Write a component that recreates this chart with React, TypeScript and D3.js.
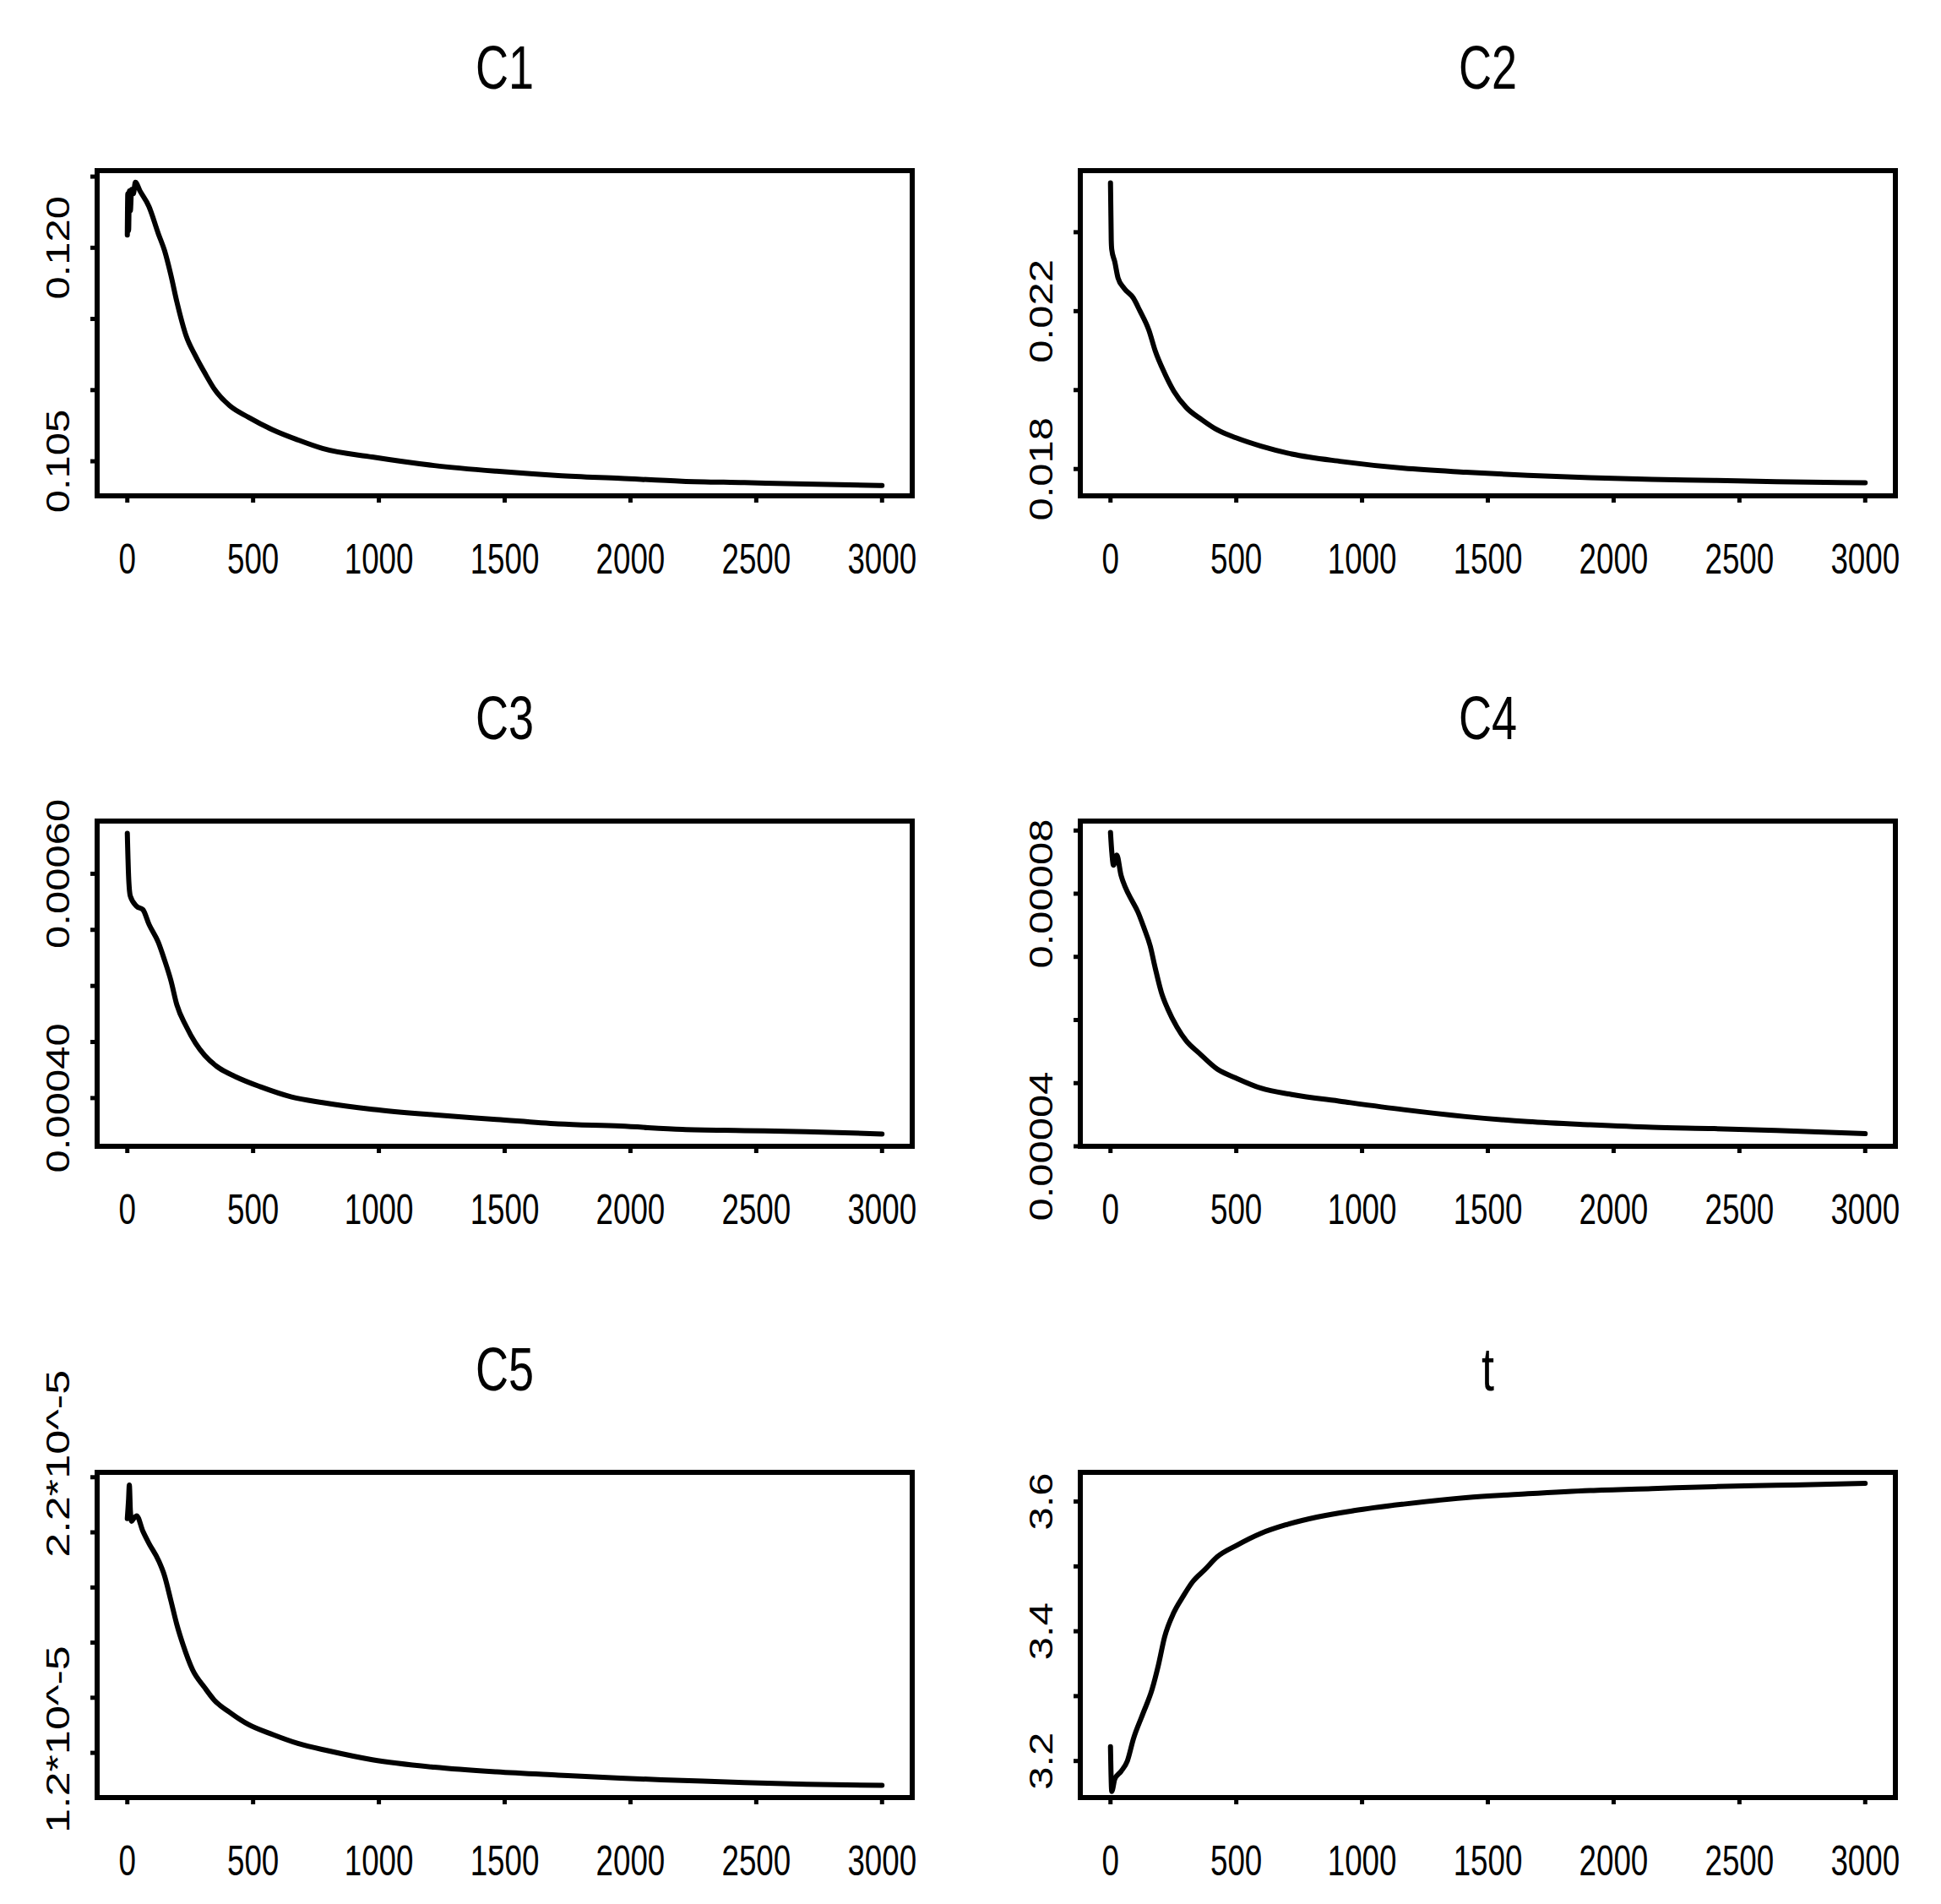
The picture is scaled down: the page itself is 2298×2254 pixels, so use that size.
import React from "react";
import * as d3 from "d3";

// ---------- data ----------
const xTicks = [0, 500, 1000, 1500, 2000, 2500, 3000];
const xDomain = [-120, 3120];

const c1X = [0, 2, 5, 8, 12, 17, 24, 32, 50, 86, 123, 148, 173, 197, 234, 271, 308, 345, 407, 481, 579, 678, 776, 974, 1220, 1467, 1713, 1960, 2206, 2453, 2699, 3000];
const c1Y = [0.1209, 0.1238, 0.1212, 0.124, 0.1226, 0.1241, 0.1238, 0.1246, 0.124, 0.1229, 0.121, 0.1198, 0.1181, 0.1162, 0.1138, 0.1124, 0.1112, 0.1101, 0.1089, 0.1081, 0.1072, 0.1065, 0.1059, 0.1053, 0.1047, 0.1043, 0.104, 0.1038, 0.1036, 0.1035, 0.1034, 0.1033];
const c1Domain = [0.10257, 0.12542];
const c1Ticks = [0.105, 0.11, 0.115, 0.12, 0.125];
const c1Labels = [[0.105, "0.105"], [0.12, "0.120"]];

const c2X = [0, 3, 5, 17, 30, 54, 91, 116, 153, 178, 215, 252, 301, 363, 425, 499, 598, 721, 919, 1165, 1412, 1659, 1906, 2153, 2400, 2647, 3000];
const c2Y = [0.02525, 0.0238, 0.02356, 0.02325, 0.02284, 0.02258, 0.02233, 0.02202, 0.02151, 0.02099, 0.02043, 0.01997, 0.01956, 0.01925, 0.01899, 0.01879, 0.01858, 0.01838, 0.01819, 0.01802, 0.01792, 0.01784, 0.01778, 0.01774, 0.01771, 0.01768, 0.01765];
const c2Domain = [0.01732, 0.02556];
const c2Ticks = [0.018, 0.02, 0.022, 0.024];
const c2Labels = [[0.018, "0.018"], [0.022, "0.022"]];

const c3X = [0, 5, 12, 37, 62, 86, 123, 148, 173, 197, 234, 271, 308, 357, 431, 530, 653, 776, 974, 1220, 1467, 1713, 1960, 2206, 2453, 2699, 3000];
const c3Y = [0.000636, 0.000598, 0.00058, 0.000571, 0.000568, 0.000555, 0.000539, 0.000523, 0.000505, 0.000483, 0.000464, 0.000449, 0.000438, 0.000428, 0.000419, 0.00041, 0.000401, 0.000396, 0.00039, 0.000385, 0.000381, 0.000377, 0.000375, 0.000372, 0.000371, 0.00037, 0.000368];
const c3Domain = [0.000357, 0.000647];
const c3Ticks = [0.0004, 0.00045, 0.0005, 0.00055, 0.0006];
const c3Labels = [[0.0004, "0.00040"], [0.0006, "0.00060"]];

const c4X = [0, 5, 12, 25, 42, 59, 84, 109, 133, 158, 178, 202, 227, 264, 301, 351, 425, 499, 598, 721, 919, 1165, 1412, 1659, 1906, 2153, 2400, 2647, 3000];
const c4Y = [8.97e-5, 8.67e-5, 8.45e-5, 8.61e-5, 8.29e-5, 8.1e-5, 7.9e-5, 7.71e-5, 7.46e-5, 7.17e-5, 6.82e-5, 6.44e-5, 6.18e-5, 5.89e-5, 5.67e-5, 5.48e-5, 5.22e-5, 5.08e-5, 4.92e-5, 4.82e-5, 4.71e-5, 4.58e-5, 4.47e-5, 4.39e-5, 4.34e-5, 4.3e-5, 4.28e-5, 4.25e-5, 4.2e-5];
const c4Domain = [4.0e-5, 9.15e-5];
const c4Ticks = [4e-5, 5e-5, 6e-5, 7e-5, 8e-5, 9e-5];
const c4Labels = [[4e-5, "0.00004"], [8e-5, "0.00008"]];

const c5X = [0, 5, 8, 12, 17, 25, 37, 62, 86, 123, 148, 173, 197, 222, 259, 308, 345, 407, 481, 579, 678, 801, 974, 1220, 1467, 1713, 1960, 2206, 2453, 2699, 3000];
const c5Y = [2.05e-5, 2.12e-5, 2.172e-5, 2.08e-5, 2.04e-5, 2.05e-5, 2.06e-5, 2.004e-5, 1.96e-5, 1.9e-5, 1.842e-5, 1.753e-5, 1.665e-5, 1.591e-5, 1.502e-5, 1.436e-5, 1.392e-5, 1.347e-5, 1.303e-5, 1.266e-5, 1.234e-5, 1.207e-5, 1.175e-5, 1.148e-5, 1.131e-5, 1.119e-5, 1.108e-5, 1.1e-5, 1.092e-5, 1.086e-5, 1.082e-5];
const c5Domain = [1.0378e-5, 2.2177e-5];
const c5Ticks = [1.2e-5, 1.4e-5, 1.6e-5, 1.8e-5, 2.0e-5, 2.2e-5];
const c5Labels = [[1.2e-5, "1.2*10^-5"], [2.2e-5, "2.2*10^-5"]];

const tX = [0, 5, 17, 42, 67, 91, 128, 165, 190, 215, 252, 289, 326, 375, 425, 499, 598, 696, 820, 968, 1165, 1412, 1659, 1906, 2153, 2400, 2647, 3000];
const tY = [3.222, 3.153, 3.172, 3.184, 3.2, 3.234, 3.272, 3.31, 3.347, 3.391, 3.429, 3.454, 3.476, 3.495, 3.515, 3.532, 3.551, 3.564, 3.576, 3.586, 3.596, 3.606, 3.612, 3.617, 3.62, 3.623, 3.625, 3.628];
const tDomain = [3.1436, 3.645];
const tTicks = [3.2, 3.3, 3.4, 3.5, 3.6];
const tLabels = [[3.2, "3.2"], [3.4, "3.4"], [3.6, "3.6"]];

const titles = ["C1", "C2", "C3", "C4", "C5", "t"];

// ---------- layout ----------
const W = 2298;
const H = 2254;
const colLeft = [115, 1279];
const boxW = 965;
const rowTop = [202, 972, 1743];
const boxH = 385;
const FONT = "'Liberation Sans', Arial, Helvetica, sans-serif";
const SX = 0.75;

const panels = [
  { title: titles[0], xs: c1X, ys: c1Y, dom: c1Domain, ticks: c1Ticks, labels: c1Labels, longLab: false },
  { title: titles[1], xs: c2X, ys: c2Y, dom: c2Domain, ticks: c2Ticks, labels: c2Labels, longLab: false },
  { title: titles[2], xs: c3X, ys: c3Y, dom: c3Domain, ticks: c3Ticks, labels: c3Labels, longLab: false },
  { title: titles[3], xs: c4X, ys: c4Y, dom: c4Domain, ticks: c4Ticks, labels: c4Labels, longLab: false },
  { title: titles[4], xs: c5X, ys: c5Y, dom: c5Domain, ticks: c5Ticks, labels: c5Labels, longLab: true },
  { title: titles[5], xs: tX, ys: tY, dom: tDomain, ticks: tTicks, labels: tLabels, longLab: false },
];

function Panel({ p, i }: { p: any; i: number }) {
  const left = colLeft[i % 2];
  const top = rowTop[Math.floor(i / 2)];
  const x = d3.scaleLinear().domain(xDomain).range([left, left + boxW]);
  const y = d3.scaleLinear().domain(p.dom).range([top + boxH, top]);
  const pts: [number, number][] = p.xs.map((v: number, k: number) => [v, p.ys[k]]);
  const line = d3
    .line<[number, number]>()
    .x((d) => x(d[0]))
    .y((d) => y(d[1]))
    .curve(d3.curveMonotoneX);
  const bottom = top + boxH;
  const cx = left + boxW / 2;
  return (
    <g>
      <text
        transform={`translate(${cx},${top - 97}) scale(${SX},1)`}
        textAnchor="middle"
        fontFamily={FONT}
        fontSize={72}
        fill="#000"
      >
        {p.title}
      </text>
      <rect x={left} y={top} width={boxW} height={boxH} fill="none" stroke="#000" strokeWidth={6} />
      {xTicks.map((t) => (
        <g key={"xt" + t}>
          <line x1={x(t)} x2={x(t)} y1={bottom} y2={bottom + 8} stroke="#000" strokeWidth={5} />
          <text
            transform={`translate(${x(t)},${bottom + 92}) scale(${SX},1)`}
            textAnchor="middle"
            fontFamily={FONT}
            fontSize={49}
            fill="#000"
          >
            {t}
          </text>
        </g>
      ))}
      {p.ticks.map((t: number) => (
        <line key={"yt" + t} x1={left - 8} x2={left} y1={y(t)} y2={y(t)} stroke="#000" strokeWidth={5} />
      ))}
      {p.labels.map((l: [number, string]) =>
        p.longLab ? (
          <text
            key={"yl" + l[1]}
            transform={`translate(${left - 33},${y(l[0]) + 95}) scale(0.78,1) rotate(-90)`}
            textAnchor="start"
            fontFamily={FONT}
            fontSize={49}
            textLength={222}
            lengthAdjust="spacingAndGlyphs"
            fill="#000"
          >
            {l[1]}
          </text>
        ) : (
          <text
            key={"yl" + l[1]}
            transform={`translate(${left - 33},${y(l[0])}) scale(0.78,1) rotate(-90)`}
            textAnchor="middle"
            fontFamily={FONT}
            fontSize={49}
            fill="#000"
          >
            {l[1]}
          </text>
        )
      )}
      <path d={line(pts) || ""} fill="none" stroke="#000" strokeWidth={6} strokeLinejoin="round" strokeLinecap="round" />
    </g>
  );
}

export default function App() {
  return (
    <svg
      width={W}
      height={H}
      viewBox={`0 0 ${W} ${H}`}
      style={{ position: "absolute", left: 0, top: 0, background: "#fff" }}
    >
      <rect x={0} y={0} width={W} height={H} fill="#fff" />
      {panels.map((p, i) => (
        <Panel key={p.title} p={p} i={i} />
      ))}
    </svg>
  );
}
